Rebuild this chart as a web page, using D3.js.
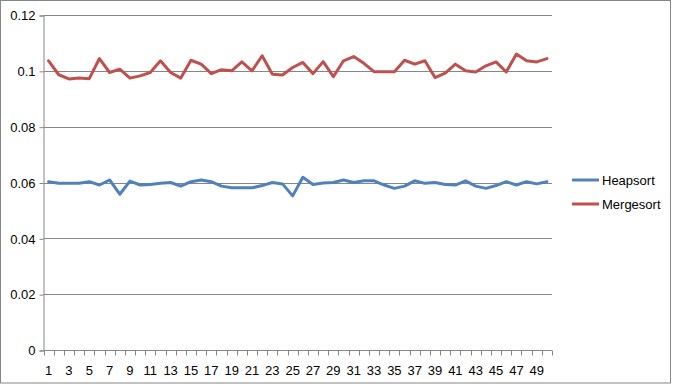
<!DOCTYPE html>
<html>
<head>
<meta charset="utf-8">
<script src="https://cdn.jsdelivr.net/npm/d3@7"></script>
<style>
  body { margin: 0; background: #fff; }
  svg { display: block; font-family: "Liberation Sans", Arial, sans-serif; }
</style>
</head>
<body>
<svg id="chart" width="673" height="385"></svg>
<script>
// run numbers 1..50
var runs = d3.range(1, 51);
var yTicks = [0, 0.02, 0.04, 0.06, 0.08, 0.1, 0.12];

var heapsort = [
  0.0603, 0.0597, 0.0597, 0.0597, 0.0603, 0.0591, 0.0609, 0.0558, 0.0605, 0.0591,
  0.0593, 0.0597, 0.0600, 0.0587, 0.0603, 0.0609, 0.0603, 0.0587, 0.0581, 0.0581,
  0.0581, 0.0589, 0.0600, 0.0595, 0.0552, 0.0619, 0.0593, 0.0598, 0.0600, 0.0609,
  0.0600, 0.0606, 0.0606, 0.0591, 0.0579, 0.0587, 0.0606, 0.0597, 0.0600, 0.0593,
  0.0591, 0.0606, 0.0587, 0.0579, 0.0589, 0.0603, 0.0591, 0.0603, 0.0595, 0.0603
];
var mergesort = [
  0.1036, 0.0986, 0.0971, 0.0974, 0.0972, 0.1044, 0.0994, 0.1006, 0.0974, 0.0982,
  0.0994, 0.1036, 0.0994, 0.0974, 0.1038, 0.1024, 0.0990, 0.1004, 0.1000, 0.1032,
  0.1000, 0.1054, 0.0988, 0.0985, 0.1012, 0.1030, 0.0990, 0.1033, 0.0979, 0.1036,
  0.1051, 0.1027, 0.0997, 0.0997, 0.0997, 0.1038, 0.1024, 0.1036, 0.0976, 0.0992,
  0.1024, 0.1000, 0.0996, 0.1018, 0.1032, 0.0996, 0.1060, 0.1036, 0.1032, 0.1044
];
var series = [
  { name: 'Heapsort', values: heapsort, color: '#4F81BD' },
  { name: 'Mergesort', values: mergesort, color: '#C0504D' }
];

var svg = d3.select('#chart');
// plot box (note: "top" is a reserved window global, so prefixed names)
var pLeft = 43.5, pRight = 552, pTop = 15, pBottom = 350;

// chart border
svg.append('rect')
  .attr('x', 0.5).attr('y', 0.5)
  .attr('width', 670).attr('height', 382.5)
  .attr('fill', 'none').attr('stroke', '#868686');

var x = d3.scaleBand().domain(runs).range([pLeft, pRight]);
var y = d3.scaleLinear().domain([0, 0.12]).range([pBottom, pTop]);

// gridlines
svg.append('g').selectAll('line')
  .data(yTicks.filter(function (d) { return d > 0; }))
  .enter().append('line')
  .attr('x1', pLeft).attr('x2', pRight)
  .attr('y1', function (d) { return Math.round(y(d)) + 0.5; })
  .attr('y2', function (d) { return Math.round(y(d)) + 0.5; })
  .attr('stroke', '#868686');

// y axis
var yAxis = svg.append('g')
  .attr('transform', 'translate(' + pLeft + ',0.5)')
  .call(d3.axisLeft(y).tickValues(yTicks).tickSize(4).tickPadding(4)
    .tickFormat(function (d) { return d === 0 ? '0' : String(+d.toFixed(2)); }));
yAxis.select('.domain').attr('stroke', '#868686');
yAxis.selectAll('.tick line').attr('stroke', '#868686');
yAxis.selectAll('text').attr('font-size', 13).attr('fill', '#000')
  .attr('font-family', '"Liberation Sans", Arial, sans-serif');

// x axis, ticks between categories like excel
var xg = svg.append('g').attr('transform', 'translate(0,' + (pBottom + 0.5) + ')');
xg.append('line').attr('x1', pLeft).attr('x2', pRight).attr('stroke', '#868686');
xg.selectAll('line.tk')
  .data(runs.concat([51]))
  .enter().append('line')
  .attr('class', 'tk')
  .attr('x1', function (d) { return Math.round(d === 51 ? pRight : x(d)) + 0.5; })
  .attr('x2', function (d) { return Math.round(d === 51 ? pRight : x(d)) + 0.5; })
  .attr('y1', 0).attr('y2', 5)
  .attr('stroke', '#868686');
xg.selectAll('text')
  .data(runs.filter(function (d) { return d % 2 === 1; }))
  .enter().append('text')
  .attr('x', function (d) { return x(d) + x.bandwidth() / 2; })
  .attr('y', 24)
  .attr('text-anchor', 'middle')
  .attr('font-size', 13)
  .text(function (d) { return d; });

// lines
var line = d3.line()
  .x(function (d, i) { return x(runs[i]) + x.bandwidth() / 2; })
  .y(function (d) { return y(d); });

svg.append('g').selectAll('path')
  .data(series)
  .enter().append('path')
  .attr('d', function (s) { return line(s.values); })
  .attr('fill', 'none')
  .attr('stroke', function (s) { return s.color; })
  .attr('stroke-width', 3)
  .attr('stroke-linejoin', 'round')
  .attr('stroke-linecap', 'round');

// legend
var lg = svg.append('g').selectAll('g')
  .data(series)
  .enter().append('g')
  .attr('transform', function (d, i) { return 'translate(572,' + (180 + i * 24) + ')'; });
lg.append('line')
  .attr('x1', 0).attr('x2', 27)
  .attr('stroke', function (d) { return d.color; })
  .attr('stroke-width', 3);
lg.append('text')
  .attr('x', 30).attr('y', 5)
  .attr('font-size', 13)
  .text(function (d) { return d.name; });
</script>
</body>
</html>
